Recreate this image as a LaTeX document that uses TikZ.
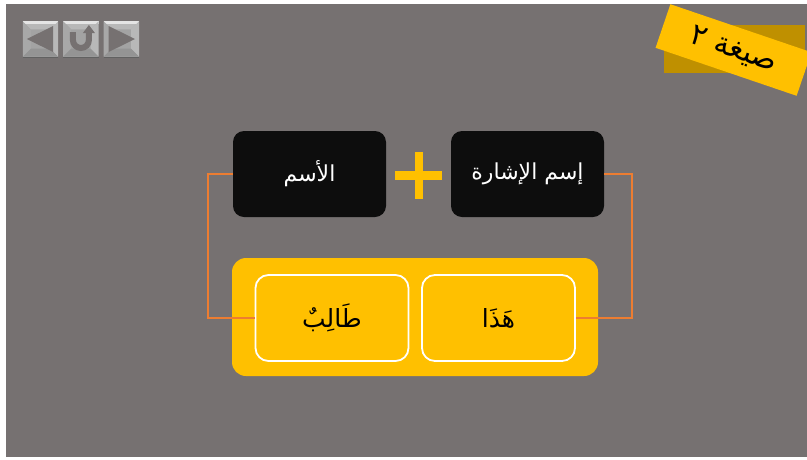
\documentclass[tikz,border=0pt]{standalone}
\usepackage{fontspec}
\usetikzlibrary{positioning}
\TeXXeTstate=1
\newfontfamily\arabicfont[Script=Arabic]{DejaVu Sans}
\definecolor{slidegrey}{HTML}{767171}
\definecolor{gold}{HTML}{FFC000}
\definecolor{darkgold}{HTML}{BF9000}
\definecolor{linkorange}{HTML}{ED7D31}
\definecolor{boxblack}{HTML}{0D0D0D}

\begin{document}
\begin{tikzpicture}[
  x=1pt, y=-1pt,
  termbox/.style={rectangle, fill=boxblack, rounded corners=11pt, minimum width=153pt, minimum height=86pt, text=white, font=\arabicfont\fontsize{22}{26}\selectfont},
  wordbox/.style={rectangle, draw=white, line width=1.8pt, rounded corners=13pt, minimum width=153pt, minimum height=86pt, text=black, font=\arabicfont\fontsize{25}{30}\selectfont},
  link/.style={draw=linkorange, line width=1.7pt},
  navbtn/.style={rectangle, fill=black!36, minimum width=35pt, minimum height=35pt, inner sep=0pt}
]
\useasboundingbox (0,0) rectangle (807,459);

% slide
\fill[white] (0,0) rectangle (807,459);
\fill[slidegrey] (6,4) rectangle (807,457);

% title tag
\node[rectangle, fill=darkgold, minimum width=141pt, minimum height=48pt, inner sep=0pt] (tagshadow) at (734.5,49) {};
\node[rectangle, fill=gold, rotate=-18.8, minimum width=149pt, minimum height=46pt, inner sep=0pt, font=\arabicfont\fontsize{30}{34}\selectfont] (tag) at (733.5,50) {\beginR صيغة ٢\endR};

% yellow panel
\node[rectangle, fill=gold, rounded corners=14pt, minimum width=366pt, minimum height=118pt] (panel) at (415,317) {};

% top row
\node[termbox] (ism) at (309.5,174) {\beginR الأسم\endR};
\node[termbox] (ishara) at (527.5,174) {\beginR إسم الإشارة\endR};

% plus sign
\node[rectangle, fill=gold, minimum width=47pt, minimum height=9pt, inner sep=0pt] (plusbar) at (418.5,175.5) {};
\node[rectangle, fill=gold, minimum width=8pt, minimum height=47pt, inner sep=0pt] (plusstem) at (419,175.5) {};

% connectors
\node[wordbox] (talib) at (332,318) {\beginR طَالِبٌ\endR};
\node[wordbox] (hatha) at (498.5,318) {\beginR هَذَا\endR};
\draw[link] (ism.west) -- ++(-25,0) |- (talib.west);
\draw[link] (ishara.east) -- ++(28,0) |- (hatha.east);

% nav buttons
\node[navbtn] (back) at (40.5,39) {};
\node[navbtn, right=5pt of back] (undo) {};
\node[navbtn, right=5pt of undo] (next) {};
\foreach \btn in {back,undo,next} {
  \fill[black!28] (\btn.north west) -- (\btn.north east) -- ([xshift=-8pt,yshift=-8pt]\btn.north east) -- ([xshift=8pt,yshift=-8pt]\btn.north west) -- cycle;
  \fill[black!10] (\btn.north west) rectangle ([yshift=-3pt]\btn.north east);
  \fill[black!34] (\btn.north west) -- (\btn.south west) -- ([xshift=8pt,yshift=8pt]\btn.south west) -- ([xshift=8pt,yshift=-8pt]\btn.north west) -- cycle;
  \fill[black!28] (\btn.north east) -- (\btn.south east) -- ([xshift=-8pt,yshift=8pt]\btn.south east) -- ([xshift=-8pt,yshift=-8pt]\btn.north east) -- cycle;
  \fill[black!42] (\btn.south west) -- (\btn.south east) -- ([xshift=-8pt,yshift=8pt]\btn.south east) -- ([xshift=8pt,yshift=8pt]\btn.south west) -- cycle;
  \fill[black!62] (\btn.south west) rectangle ([yshift=-1pt]\btn.south east);
}
\fill[slidegrey] ([xshift=4pt]back.west) -- ([xshift=-5pt,yshift=13pt]back.center -| back.east) -- ([xshift=-5pt,yshift=-13pt]back.center -| back.east) -- cycle;
\fill[slidegrey] ([xshift=-4pt]next.east) -- ([xshift=5pt,yshift=13pt]next.center -| next.west) -- ([xshift=5pt,yshift=-13pt]next.center -| next.west) -- cycle;
\draw[slidegrey, line width=6pt] ([xshift=-8pt,yshift=7pt]undo.center) -- ([xshift=-8pt,yshift=-1pt]undo.center) arc[start angle=180, end angle=360, radius=8pt] -- ([xshift=8pt,yshift=7pt]undo.center);
\fill[slidegrey] ([xshift=2pt,yshift=6pt]undo.center) -- ([xshift=8pt,yshift=14pt]undo.center) -- ([xshift=14pt,yshift=6pt]undo.center) -- cycle;

\end{tikzpicture}
\end{document}
